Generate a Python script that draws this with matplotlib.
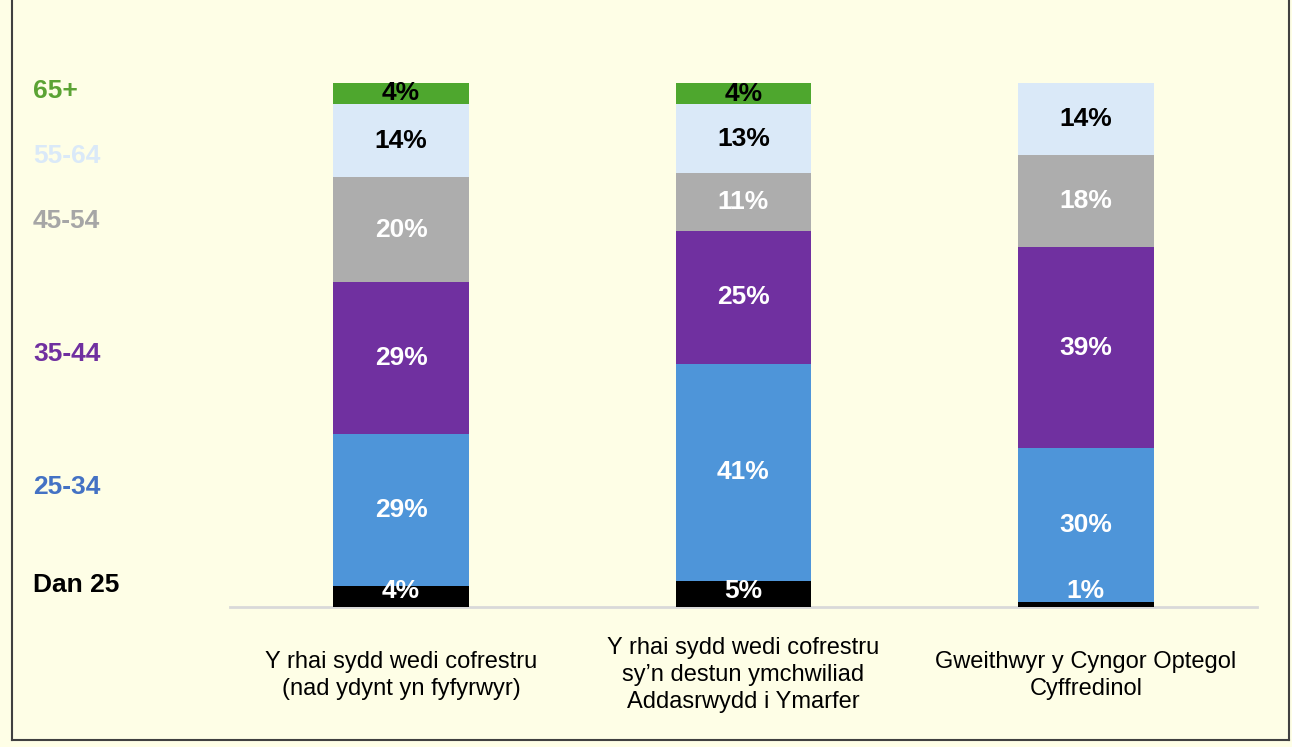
import numpy as np
import matplotlib
matplotlib.use('Agg')
import matplotlib.pyplot as plt
from matplotlib.lines import Line2D
from matplotlib.transforms import blended_transform_factory

plt.rcParams['font.family'] = ['Liberation Sans', 'DejaVu Sans']

# data
categories = ['Y rhai sydd wedi cofrestru\n(nad ydynt yn fyfyrwyr)',
              'Y rhai sydd wedi cofrestru\nsy\u2019n destun ymchwiliad\nAddasrwydd i Ymarfer',
              'Gweithwyr y Cyngor Optegol\nCyffredinol']
age_groups = ['Dan 25', '25-34', '35-44', '45-54', '55-64', '65+']
values = {
    'Dan 25': [4, 5, 1],
    '25-34': [29, 41, 30],
    '35-44': [29, 25, 39],
    '45-54': [20, 11, 18],
    '55-64': [14, 13, 14],
    '65+':   [4, 4, 0],
}

bar_colors = {'Dan 25': '#000000', '25-34': '#4E95D9', '35-44': '#7030A0',
              '45-54': '#ADADAD', '55-64': '#DAE9F8', '65+': '#4EA72E'}
text_colors = {'Dan 25': 'white', '25-34': 'white', '35-44': 'white',
               '45-54': 'white', '55-64': 'black', '65+': 'black'}
legend_colors = {'Dan 25': '#000000', '25-34': '#4472C4', '35-44': '#7030A0',
                 '45-54': '#A6A6A6', '55-64': '#DAE9F8', '65+': '#5BA334'}
legend_y = {'Dan 25': 4.2, '25-34': 22.9, '35-44': 48.3,
            '45-54': 73.7, '55-64': 86.0, '65+': 98.5}

bg = '#FEFEE6'
W, H = 1292, 747
fig = plt.figure(figsize=(W / 100, H / 100), dpi=100, facecolor=bg)
ax = fig.add_axes([230 / W, 1 - 607 / H, (1257 - 230) / W, (607 - 30.6) / H])
ax.set_facecolor(bg)

x = np.arange(len(categories))
# 100% stacked: each column scaled to its own total
totals = np.sum([values[g] for g in age_groups], axis=0).astype(float)
bottom = np.zeros(len(categories))
for g in age_groups:
    raw = np.array(values[g], dtype=float)
    v = raw / totals * 100
    ax.bar(x, v, bottom=bottom, width=0.397, color=bar_colors[g], zorder=2)
    for i in range(len(x)):
        if raw[i] <= 0:
            continue
        yc = bottom[i] + v[i] / 2
        col = text_colors[g]
        if g == 'Dan 25':
            yc = max(yc, 3.0)
        ax.text(x[i], yc, f'{int(raw[i])}%', ha='center', va='center',
                fontsize=19, fontweight='bold', color=col, zorder=3)
    bottom += v

ax.set_xlim(-0.5, 2.5)
ax.set_ylim(0, 110)
for s in ['top', 'right', 'left']:
    ax.spines[s].set_visible(False)
ax.spines['bottom'].set_color('#D9D9D9')
ax.spines['bottom'].set_linewidth(2)
ax.spines['bottom'].set_zorder(1)
ax.set_xticks([])
ax.set_yticks([])

for i, c in enumerate(categories):
    ax.text(x[i], -13, c, ha='center', va='center', fontsize=17,
            linespacing=1.3, color='black', clip_on=False)

trans = blended_transform_factory(fig.transFigure, ax.transData)
for g in age_groups:
    ax.text(33 / W, legend_y[g], g, transform=trans, ha='left', va='center',
            fontsize=19, fontweight='bold', color=legend_colors[g])

# frame
lc = '#404040'
fig.add_artist(Line2D([12 / W, 12 / W], [1 - 740 / H, 1.0], transform=fig.transFigure, color=lc, lw=1.5))
fig.add_artist(Line2D([12 / W, 1289 / W], [1 - 740 / H, 1 - 740 / H], transform=fig.transFigure, color=lc, lw=1.5))
fig.add_artist(Line2D([1289 / W, 1289 / W], [1 - 740 / H, 1.0], transform=fig.transFigure, color=lc, lw=1.5))

fig.savefig('out.png', dpi=100, facecolor=bg)
